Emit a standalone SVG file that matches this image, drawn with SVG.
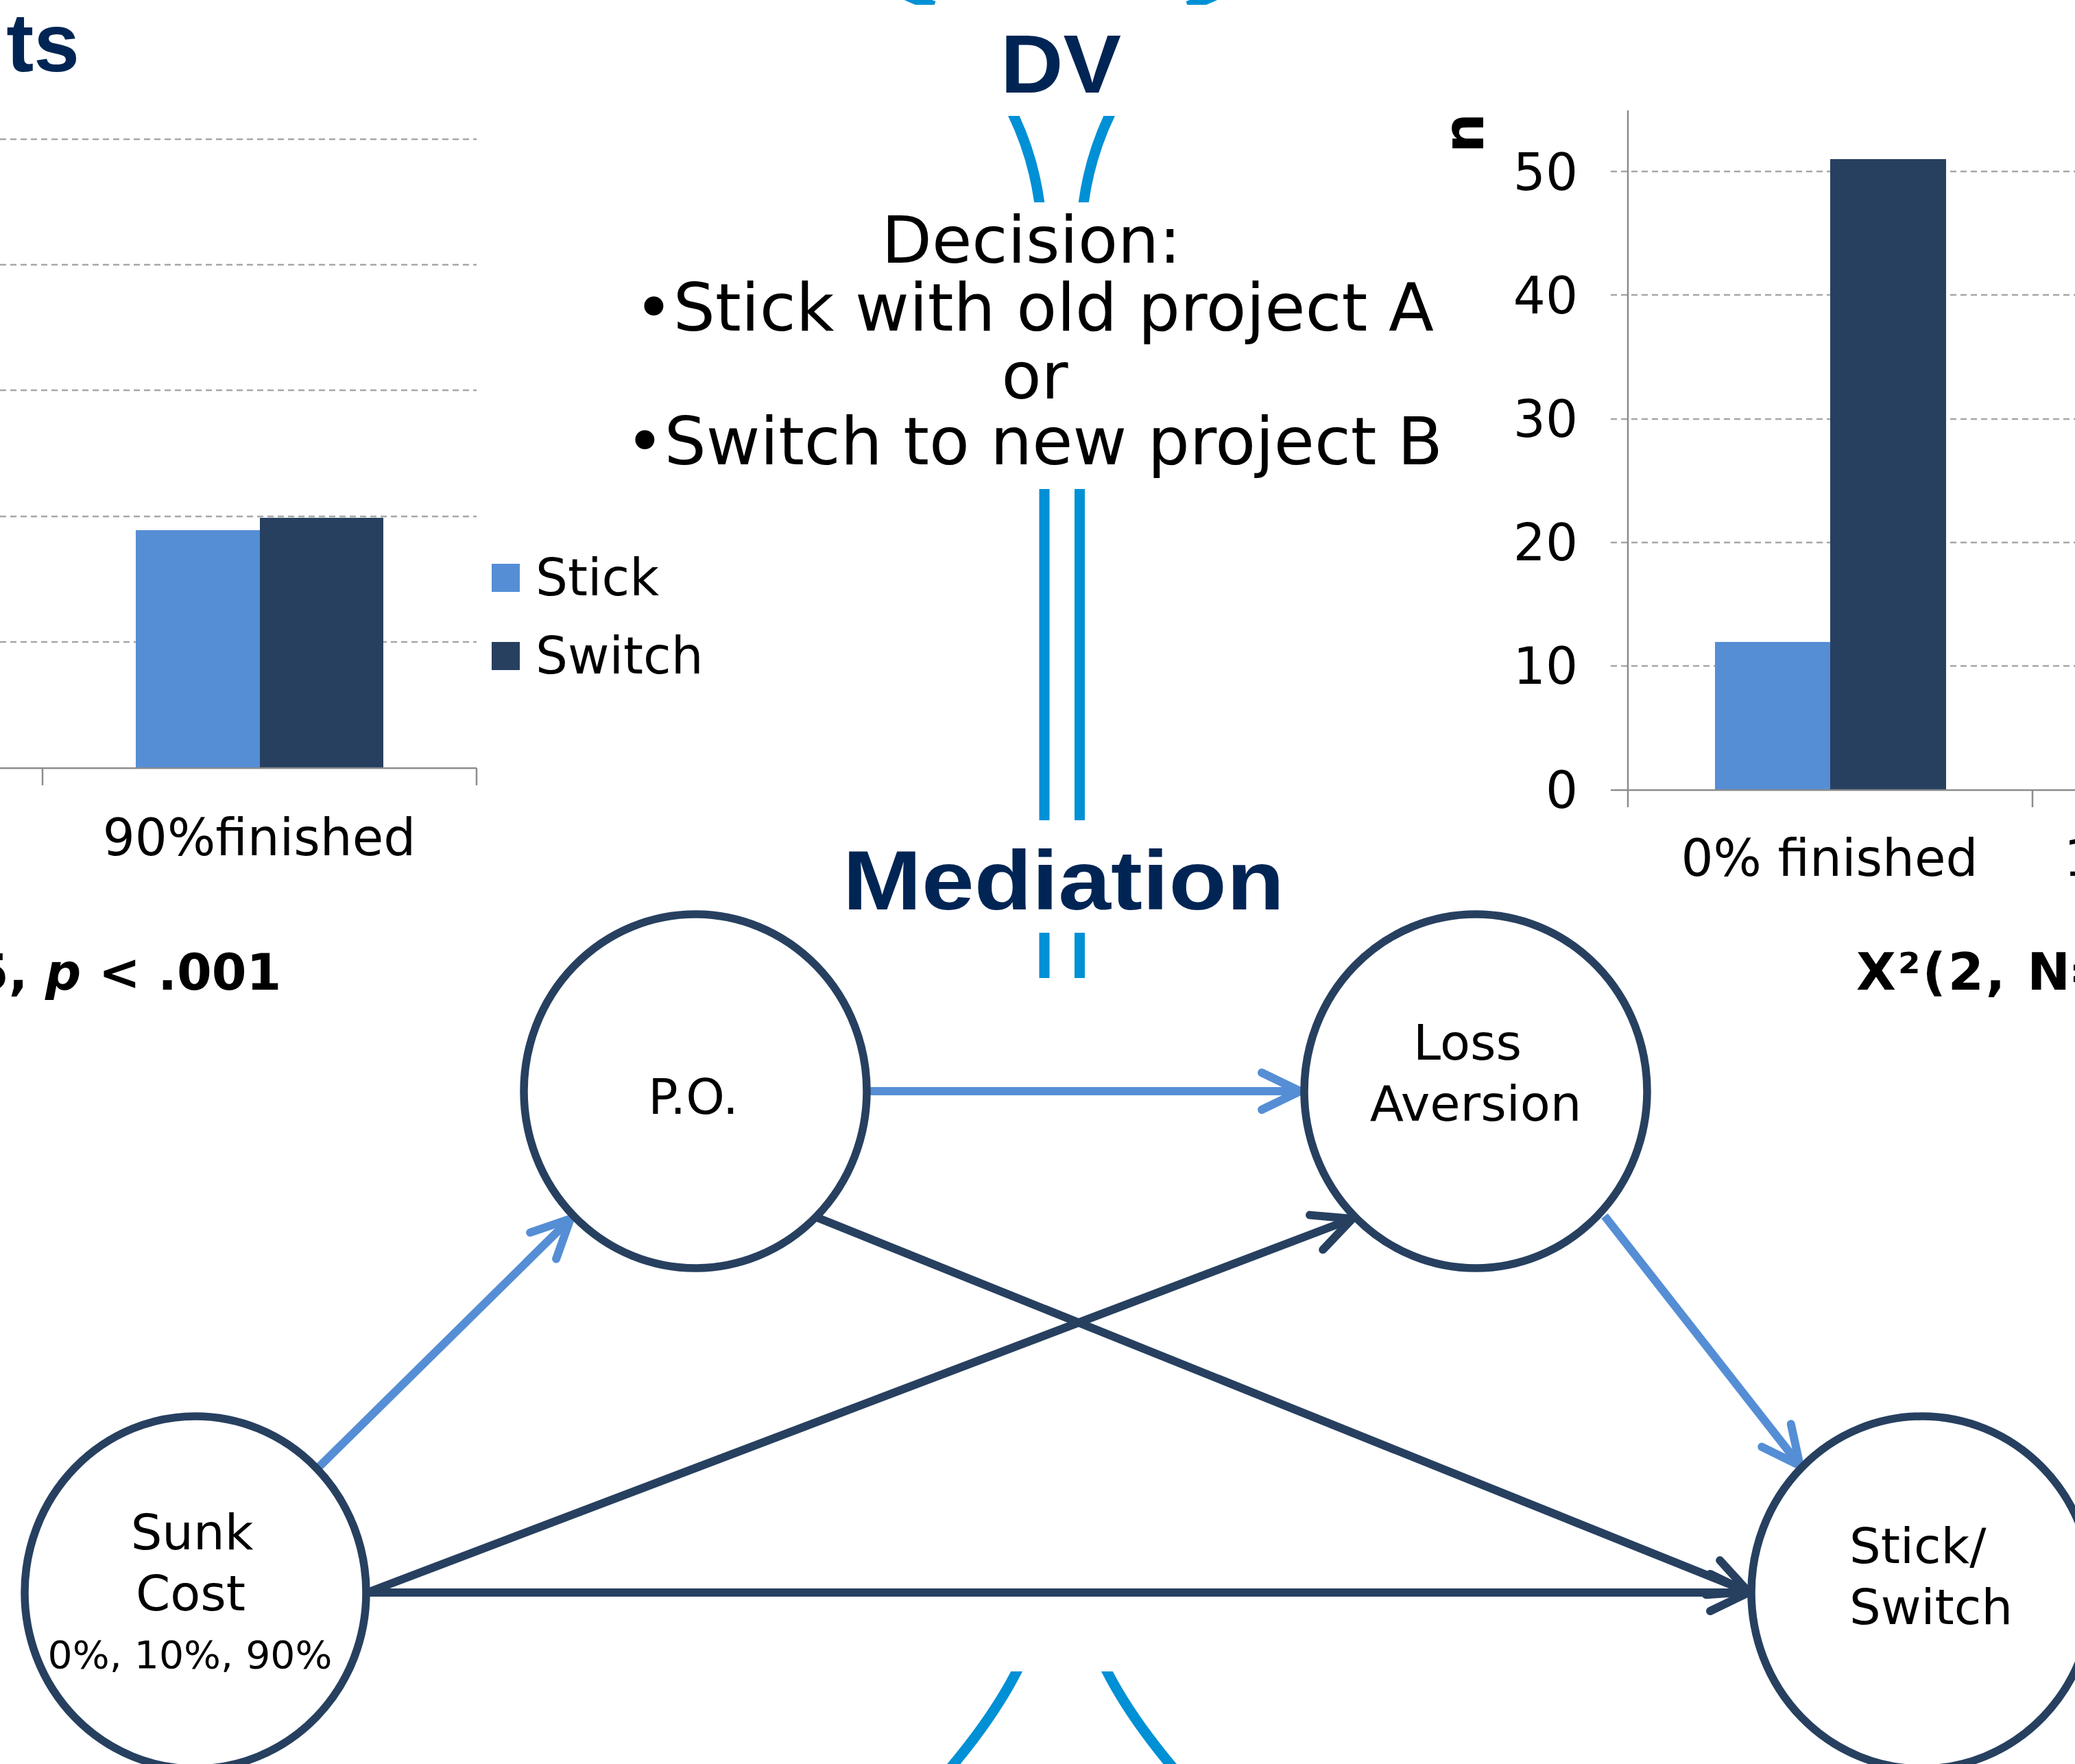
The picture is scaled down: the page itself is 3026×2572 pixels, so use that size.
<svg xmlns="http://www.w3.org/2000/svg" width="3026" height="2572" viewBox="0 0 3026 2572">
<style>
.t{font-family:"DejaVu Sans","Verdana",sans-serif;fill:#000}
.title{font-family:"Liberation Sans","Arial",sans-serif;font-weight:bold;fill:#002554}
.bold{font-family:"DejaVu Sans","Verdana",sans-serif;font-weight:bold;fill:#000}
.grid{stroke:#a6a6a6;stroke-width:2.5;stroke-dasharray:9 6;fill:none}
.axis{stroke:#8c8c8c;stroke-width:2.5;fill:none}
.sep{stroke:#0090d5;stroke-width:15;fill:none}
.node{fill:#fff;stroke:#274060;stroke-width:11.5}
.cl{stroke:#558ed5;stroke-width:12;fill:none;marker-end:url(#ahL)}
.cd{stroke:#274060;stroke-width:12;fill:none;marker-end:url(#ahD)}
</style>
<defs>
<marker id="ahL" markerUnits="userSpaceOnUse" orient="auto" refX="0" refY="0" markerWidth="10" markerHeight="10" overflow="visible">
<path d="M-56,-27 L0,0 L-56,27" fill="none" stroke="#558ed5" stroke-width="12" stroke-linecap="round" stroke-linejoin="round"/>
</marker>
<marker id="ahD" markerUnits="userSpaceOnUse" orient="auto" refX="0" refY="0" markerWidth="10" markerHeight="10" overflow="visible">
<path d="M-56,-27 L0,0 L-56,27" fill="none" stroke="#274060" stroke-width="12" stroke-linecap="round" stroke-linejoin="round"/>
</marker>
<clipPath id="clipTop"><rect x="0" y="-60" width="3026" height="67"/></clipPath>
<clipPath id="clipDV"><rect x="0" y="169" width="3026" height="126"/></clipPath>
<clipPath id="clipBot"><rect x="0" y="2437" width="3026" height="200"/></clipPath>
</defs>

<rect x="0" y="0" width="3026" height="2572" fill="#fff"/>

<!-- Left chart (partial) -->
<g id="left-chart">
<text class="title" x="116" y="104" font-size="120" text-anchor="end">ts</text>
<g>
<line class="grid" x1="0" y1="203" x2="695" y2="203"/>
<line class="grid" x1="0" y1="386" x2="695" y2="386"/>
<line class="grid" x1="0" y1="569" x2="695" y2="569"/>
<line class="grid" x1="0" y1="753" x2="695" y2="753"/>
<line class="grid" x1="0" y1="936" x2="695" y2="936"/>
</g>
<rect x="198" y="773" width="181" height="347" fill="#558ed5"/>
<rect x="379" y="755" width="180" height="365" fill="#274060"/>
<line class="axis" x1="0" y1="1120" x2="695" y2="1120"/>
<line class="axis" x1="62" y1="1120" x2="62" y2="1145"/>
<line class="axis" x1="695" y1="1120" x2="695" y2="1145"/>
<text class="t" x="378" y="1247" font-size="74" text-anchor="middle">90%finished</text>
<rect x="717" y="822" width="41" height="41" fill="#558ed5"/>
<rect x="717" y="936" width="41" height="41" fill="#274060"/>
<text class="t" x="781" y="868" font-size="74">Stick</text>
<text class="t" x="781" y="982" font-size="74">Switch</text>
<text class="bold" x="-38" y="1443" font-size="73">5, <tspan font-style="italic">p</tspan> &lt; .001</text>
</g>

<!-- Center: DV and decision -->
<g id="dv-block">
<g clip-path="url(#clipTop)">
<path class="sep" d="M1290,-24 Q1318,-6 1362,9"/>
<path class="sep" d="M1804,-24 Q1776,-6 1732,9"/>
</g>
<text class="title" x="1547" y="135" font-size="120" text-anchor="middle" textLength="176" lengthAdjust="spacingAndGlyphs">DV</text>
<g clip-path="url(#clipDV)">
<path class="sep" d="M1474,160 Q1508,228 1517,305"/>
<path class="sep" d="M1622,160 Q1588,228 1579,305"/>
</g>
<g class="t" text-anchor="middle">
<text x="1504" y="383" font-size="95">Decision:</text>
<text x="1508" y="482" font-size="96" textLength="1166" lengthAdjust="spacingAndGlyphs">•Stick with old project A</text>
<text x="1509" y="581" font-size="95">or</text>
<text x="1508" y="677" font-size="96" textLength="1192" lengthAdjust="spacingAndGlyphs">•Switch to new project B</text>
</g>
<line class="sep" x1="1523" y1="713" x2="1523" y2="1196"/>
<line class="sep" x1="1574.5" y1="713" x2="1574.5" y2="1196"/>
<text class="title" x="1551" y="1326" font-size="122" text-anchor="middle" textLength="644" lengthAdjust="spacingAndGlyphs">Mediation</text>
<line class="sep" x1="1523" y1="1360" x2="1523" y2="1426"/>
<line class="sep" x1="1574.5" y1="1360" x2="1574.5" y2="1426"/>
<g clip-path="url(#clipBot)">
<path class="sep" d="M1490,2422 Q1455,2497 1380,2585"/>
<path class="sep" d="M1607,2422 Q1642,2497 1717,2585"/>
</g>
</g>

<!-- Right chart (partial) -->
<g id="right-chart">
<text class="bold" transform="translate(2163,194) rotate(-90)" font-size="82" text-anchor="middle">n</text>
<g>
<line class="grid" x1="2349" y1="250" x2="3026" y2="250"/>
<line class="grid" x1="2349" y1="430" x2="3026" y2="430"/>
<line class="grid" x1="2349" y1="611" x2="3026" y2="611"/>
<line class="grid" x1="2349" y1="791" x2="3026" y2="791"/>
<line class="grid" x1="2349" y1="971" x2="3026" y2="971"/>
</g>
<rect x="2501" y="936" width="168" height="216" fill="#558ed5"/>
<rect x="2669" y="232" width="169" height="920" fill="#274060"/>
<line class="axis" x1="2374" y1="161" x2="2374" y2="1177"/>
<line class="axis" x1="2349" y1="1152" x2="3026" y2="1152"/>
<line class="axis" x1="2964" y1="1152" x2="2964" y2="1177"/>
<g class="t" font-size="74" text-anchor="end">
<text x="2301" y="277">50</text>
<text x="2301" y="457">40</text>
<text x="2301" y="637">30</text>
<text x="2301" y="817">20</text>
<text x="2301" y="997">10</text>
<text x="2301" y="1178">0</text>
</g>
<text class="t" x="2668" y="1277" font-size="74" text-anchor="middle">0% finished</text>
<text class="t" x="3250" y="1277" font-size="74" text-anchor="middle">10% finished</text>
<text class="bold" x="2707" y="1443" font-size="75" textLength="312" lengthAdjust="spacing">X²(2, N</text>
<text class="bold" x="3016" y="1443" font-size="75">=</text>
</g>

<!-- Connectors -->
<g id="connectors">
<path id="e-po-loss" class="cl" d="M1264,1591 L1896,1591"/>
<path id="e-sunk-po" class="cl" d="M464,2140 L832,1777"/>
<path id="e-loss-stick" class="cl" d="M2340,1773 L2625,2137"/>
<path id="e-po-stick" class="cd" d="M1191,1775 L2550,2321"/>
<path id="e-sunk-loss" class="cd" d="M541,2320 L1972,1777"/>
<path id="e-sunk-stick" class="cd" d="M534,2322 L2550,2322"/>
</g>

<!-- Nodes -->
<g id="node-po">
<ellipse class="node" cx="1014" cy="1591" rx="250" ry="258"/>
<text class="t" x="1011" y="1624" font-size="72" text-anchor="middle">P.O.</text>
</g>
<g id="node-loss">
<ellipse class="node" cx="2152" cy="1591" rx="250" ry="258"/>
<text class="t" x="2140" y="1545" font-size="72" text-anchor="middle">Loss</text>
<text class="t" x="2152" y="1634" font-size="72" text-anchor="middle">Aversion</text>
</g>
<g id="node-sunk">
<ellipse class="node" cx="285" cy="2322" rx="249" ry="257"/>
<text class="t" x="280" y="2259" font-size="72" text-anchor="middle">Sunk</text>
<text class="t" x="278" y="2348" font-size="72" text-anchor="middle">Cost</text>
<text class="t" x="277" y="2432" font-size="56" text-anchor="middle" textLength="415" lengthAdjust="spacingAndGlyphs">0%, 10%, 90%</text>
</g>
<g id="node-stick">
<ellipse class="node" cx="2803" cy="2322" rx="249" ry="257"/>
<text class="t" x="2697" y="2279" font-size="72">Stick/</text>
<text class="t" x="2697" y="2368" font-size="72">Switch</text>
</g>
</svg>
